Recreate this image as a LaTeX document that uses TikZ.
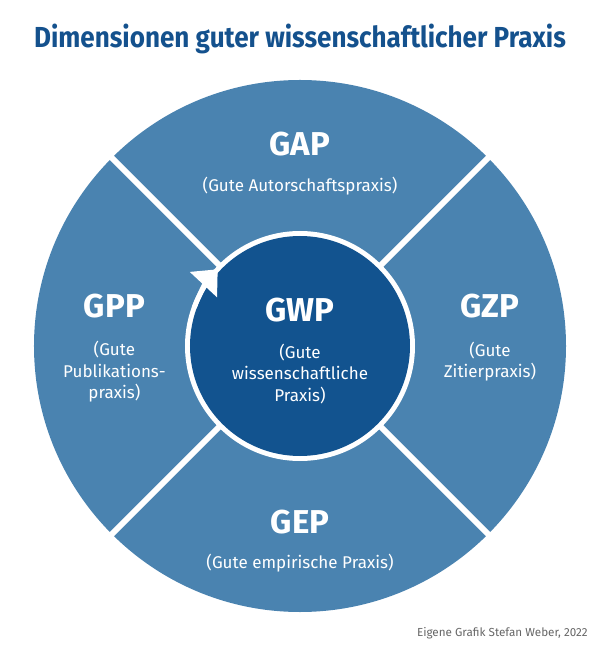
\documentclass[tikz,border=0pt]{standalone}
\usepackage{fontspec}
\setmainfont{Fira Sans}
\newfontfamily\titlefont[FakeStretch=0.9]{Fira Sans}
\usetikzlibrary{arrows.meta}
\definecolor{ringblue}{HTML}{4A83B0}
\definecolor{coreblue}{HTML}{12538F}
\definecolor{titleblue}{HTML}{14518D}
\definecolor{notegray}{HTML}{666666}

\begin{document}
\begin{tikzpicture}[
    >=Stealth,
    abbr/.style={text=white, font=\bfseries\fontsize{23.5}{28}\selectfont, inner sep=0pt},
    desc/.style={text=white, align=center, font=\fontsize{12.1}{15.3}\selectfont, inner sep=0pt},
    divider/.style={white, line width=0.15cm},
    gap_ring/.style={white, line width=0.125cm}
]
    \useasboundingbox (-7.5, -7.55) rectangle (7.5, 8.65);

    % Title
    \node[titleblue, font=\titlefont\bfseries\fontsize{20.6}{24}\selectfont] (title) at (0, 7.675) {Dimensionen guter wissenschaftlicher Praxis};

    % Outer disc and the four dividers
    \fill[ringblue] (0,0) circle (6.65);
    \foreach \a in {45, 135, 225, 315}
        \draw[divider] (0,0) -- (\a:6.8);

    % Centre disc with white ring
    \fill[white] (0,0) circle (2.875);
    \fill[coreblue] (0,0) circle (2.75);

    % Arrow head on the ring
    \draw[gap_ring, -{Triangle[length=0.525cm, width=0.9cm]}] (160:2.8125) arc[start angle=160, end angle=137, radius=2.8125];

    % Top segment
    \node[abbr] (gap) at (0, 5.05) {GAP};
    \node[desc] (gap_txt) at (0, 4.0) {(Gute Autorschaftspraxis)};

    % Left segment
    \node[abbr] (gpp) at (-4.64, 1.0) {GPP};
    \node[desc] (gpp_txt) at (-4.64, -0.65) {(Gute\\Publikations-\\praxis)};

    % Right segment
    \node[abbr] (gzp) at (4.75, 1.0) {GZP};
    \node[desc] (gzp_txt) at (4.75, -0.39) {(Gute\\Zitierpraxis)};

    % Centre
    \node[abbr] (gwp) at (0, 0.9) {GWP};
    \node[desc] (gwp_txt) at (0, -0.7) {(Gute\\wissenschaftliche\\Praxis)};

    % Bottom segment
    \node[abbr] (gep) at (0, -4.4) {GEP};
    \node[desc] (gep_txt) at (0, -5.43) {(Gute empirische Praxis)};

    % Source note
    \node[notegray, anchor=east, font=\fontsize{8.3}{10}\selectfont, inner sep=0pt] (source) at (7.2, -7.18) {Eigene Grafik Stefan Weber, 2022};

\end{tikzpicture}
\end{document}
